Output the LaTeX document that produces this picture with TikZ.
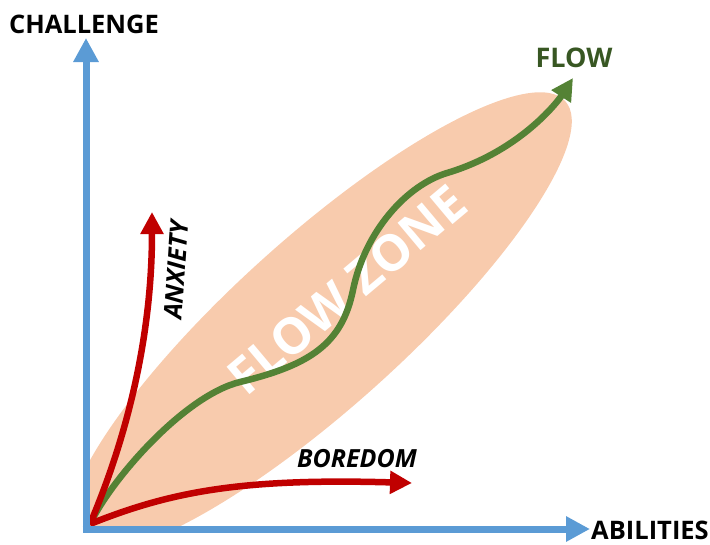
\documentclass[tikz,border=0pt]{standalone}
\usepackage{fontspec}
\setmainfont{Open Sans}
\usepackage{tikz}
\usetikzlibrary{arrows.meta}
\definecolor{axisblue}{HTML}{5B9BD5}
\definecolor{zonepeach}{HTML}{F8CBAD}
\definecolor{flowgreen}{HTML}{548235}
\definecolor{flowdark}{HTML}{385723}
\definecolor{warnred}{HTML}{C00000}

\begin{document}
\begin{tikzpicture}[x=1pt,y=-1pt,
    axis/.style={color=axisblue,line width=7pt,-{Triangle[length=24pt,width=24pt]}},
    curve/.style={line width=6.5pt,-{Triangle[length=22pt,width=22pt]}},
    lbl/.style={font=\bfseries\fontsize{25.5}{25.5}\selectfont,inner sep=0pt,anchor=base},
    mood/.style={font=\bfseries\itshape\fontsize{25}{25}\selectfont,inner sep=0pt}]

\useasboundingbox (0,0) rectangle (710,544);

 % flow zone
 \begin{scope}
  \clip (86,0) rectangle (710,529);
  \fill [zonepeach,rotate around={42:(320,322)}] (320,322) ellipse [x radius=330pt,y radius=85pt];
 \end{scope}
 \node [white,inner sep=0pt,rotate=40,font=\bfseries\fontsize{50}{50}\selectfont] (zone) at (347,290) {FLOW ZONE};

 \coordinate (start) at (90,524);
 \coordinate (a)    at (240,382);
 \coordinate (b)    at (353,290);
 \coordinate (c)    at (447,173);
 \coordinate (flow) at (573,78);
 \coordinate (anx)  at (152,212);
 \coordinate (bor)  at (412,483);

 \draw [curve,color=flowgreen]
     (start) .. controls (112,478) and (185,395.4) .. (a)
             .. controls (310,365) and (342,344) .. (b)
             .. controls (365,231) and (407,185) .. (c)
             .. controls (522,150.5) and (559.5,99) .. (flow);
 \draw [curve,color=warnred] (start) .. controls (130,430) and (152,330) .. (anx);
 \draw [curve,color=warnred] (start) .. controls (170,492) and (240,478) .. (bor);

 % axes
 \coordinate (O)  at (86,529);
 \coordinate (ch) at (86,38);
 \coordinate (ab) at (590,529);
 \draw [axis] (86,532.5) -- (ch);
 \draw [axis] (82.5,529) -- (ab);

 \node [lbl]              (challenge) at (84,33)  {CHALLENGE};
 \node [lbl]              (abilities) at (650,539) {ABILITIES};
 \node [lbl,text=flowdark,font=\bfseries\fontsize{27}{27}\selectfont] (flowlbl) at (574,67) {FLOW};
 \node [mood,rotate=86]   (anxiety) at (176,270) {ANXIETY};
 \node [mood,anchor=base] (boredom) at (357,467) {BOREDOM};
\end{tikzpicture}
\end{document}
